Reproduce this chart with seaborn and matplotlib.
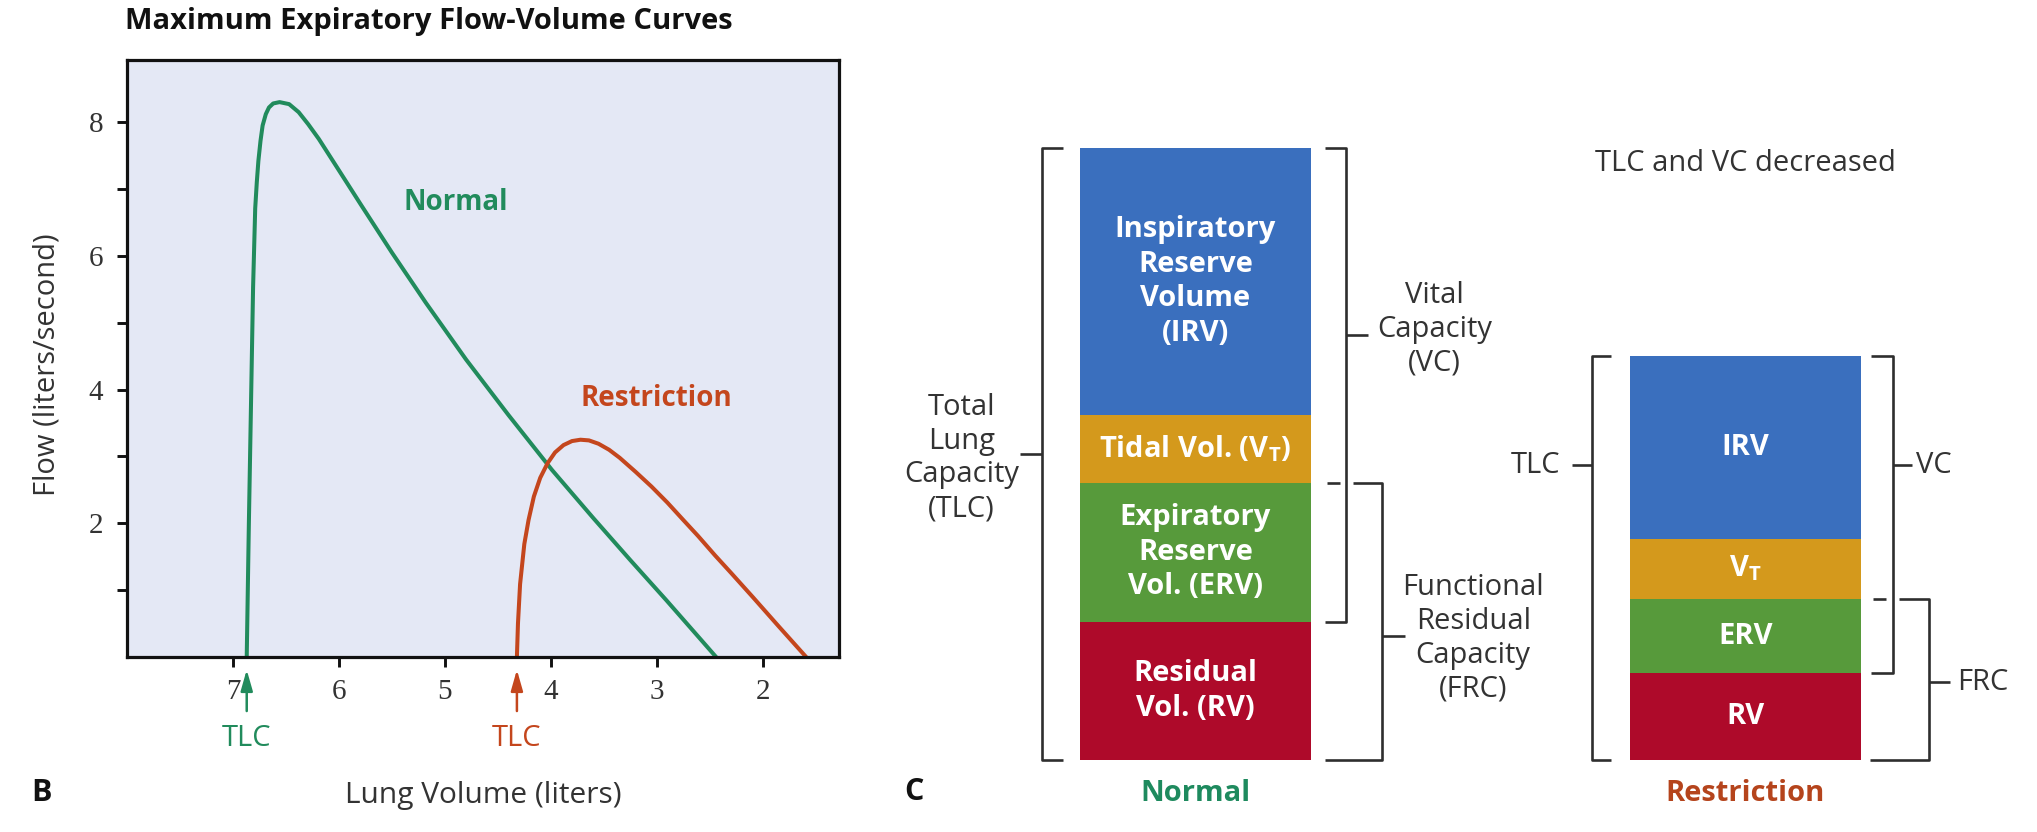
import matplotlib
matplotlib.use("Agg")
import matplotlib.pyplot as plt
import seaborn as sns

# --- data ---
# maximum expiratory flow-volume curves (volume in liters, flow in liters/second)
normal_vol = [6.87, 6.85, 6.83, 6.81, 6.79, 6.775, 6.76, 6.74, 6.72, 6.69, 6.66, 6.62,
              6.56, 6.47, 6.38, 6.29, 6.19, 6.00, 5.79, 5.50, 5.18, 4.80, 4.40, 3.99,
              3.60, 3.25, 2.91, 2.65, 2.44]
normal_flow = [0.0, 1.98, 3.75, 5.53, 6.71, 7.10, 7.42, 7.72, 7.95, 8.12, 8.22, 8.28,
               8.30, 8.27, 8.15, 7.97, 7.75, 7.28, 6.76, 6.05, 5.30, 4.45, 3.62, 2.80,
               2.08, 1.45, 0.85, 0.38, 0.0]
restr_vol = [4.32, 4.31, 4.29, 4.25, 4.21, 4.16, 4.10, 4.03, 3.96, 3.88, 3.80, 3.72,
             3.64, 3.55, 3.45, 3.35, 3.20, 3.05, 2.90, 2.75, 2.61, 2.45, 2.30, 2.09,
             1.85, 1.59]
restr_flow = [0.0, 0.50, 1.09, 1.69, 2.05, 2.40, 2.68, 2.90, 3.06, 3.17, 3.23, 3.25,
              3.24, 3.19, 3.10, 2.98, 2.77, 2.55, 2.31, 2.05, 1.81, 1.52, 1.26, 0.89,
              0.46, 0.0]
normal_tlc = 6.87
restr_tlc = 4.32

# lung volume compartments, bottom to top (liters)
compartments = ["RV", "ERV", "VT", "IRV"]
normal_parts = [1.35, 1.37, 0.66, 2.62]
restr_parts = [0.85, 0.73, 0.59, 1.79]
normal_labels = ["Residual\nVol. (RV)", "Expiratory\nReserve\nVol. (ERV)",
                 r"Tidal Vol. ($\mathbf{V}_\mathbf{T}$)",
                 "Inspiratory\nReserve\nVolume\n(IRV)"]
restr_labels = ["RV", "ERV", r"$\mathbf{V}_\mathbf{T}$", "IRV"]
part_colors = ["#AE0A2A", "#579A3B", "#D4991C", "#3A6FBE"]

green = "#218B5C"
red = "#C4461D"
ink = "#333333"

sns.set_theme(style="white")
plt.rcParams["font.family"] = ["Open Sans", "DejaVu Sans"]
plt.rcParams["mathtext.fontset"] = "custom"
plt.rcParams["mathtext.rm"] = "Open Sans"
plt.rcParams["mathtext.bf"] = "Open Sans:bold"

W, H = 2037, 832
fig = plt.figure(figsize=(W / 100, H / 100), dpi=100)
fx = lambda px: px / W
fy = lambda py: 1 - py / H

# ---------------- panel B ----------------
ax = fig.add_axes([fx(127), fy(657), 712 / W, 597 / H])
ax.set_facecolor("#E4E8F5")
sns.lineplot(x=normal_vol, y=normal_flow, sort=False, estimator=None, ax=ax,
             color=green, lw=2.9)
sns.lineplot(x=restr_vol, y=restr_flow, sort=False, estimator=None, ax=ax,
             color=red, lw=2.9)
ax.set_xlim(8, 1.28)
ax.set_ylim(0, 8.93)
for s in ax.spines.values():
    s.set_linewidth(2.3)
    s.set_color("#111111")
ax.set_xticks([7, 6, 5, 4, 3, 2])
ax.set_xticklabels(["7", "6", "5", "4", "3", "2"])
ax.set_yticks([2, 4, 6, 8])
ax.set_yticklabels(["2", "4", "6", "8"])
ax.set_yticks([1, 3, 5, 7], minor=True)
ax.tick_params(which="both", direction="out", length=7, width=2.1, color="#111111",
               bottom=True, left=True, labelsize=21, labelcolor=ink)
ax.tick_params(axis="x", pad=9)
ax.tick_params(axis="y", pad=10)
for lab in ax.get_xticklabels() + ax.get_yticklabels():
    lab.set_fontfamily("Liberation Serif")

ax.set_xlabel("Lung Volume (liters)", fontsize=21.5, color=ink, va="center")
ax.xaxis.set_label_coords(0.5, (657 - 795) / 597)
ax.set_ylabel("Flow (liters/second)", fontsize=21, color=ink, va="center")
ax.yaxis.set_label_coords((47 - 127) / 712, (657 - 365) / 597)

ax.text(4.90, 6.80, "Normal", color=green, fontsize=20, fontweight="bold",
        ha="center", va="center")
ax.text(3.00, 3.87, "Restriction", color=red, fontsize=20, fontweight="bold",
        ha="center", va="center")

for v, c in [(normal_tlc, green), (restr_tlc, red)]:
    ax.annotate("", xy=(v, -0.15), xytext=(v, -0.85), annotation_clip=False,
                arrowprops=dict(arrowstyle="-|>,head_width=0.2,head_length=0.7",
                                color=c, lw=1.8, mutation_scale=18))
    ax.text(v, -1.22, "TLC", color=c, fontsize=21, ha="center", va="center",
            clip_on=False)

fig.text(fx(125), fy(22), "Maximum Expiratory Flow-Volume Curves", fontsize=21,
         fontweight="bold", color="#111111", ha="left", va="center")
fig.text(fx(42), fy(793), "B", fontsize=22, fontweight="bold", color="#111111",
         ha="center", va="center")

# ---------------- panel C ----------------
ax2 = fig.add_axes([fx(880), fy(760), (W - 880) / W, 612 / H])
ax2.set_xlim(-0.5736, 1.530)
ax2.set_ylim(0, sum(normal_parts))
ax2.axis("off")

bar_w = 0.42
for xc, parts, labels in [(0, normal_parts, normal_labels), (1, restr_parts, restr_labels)]:
    bottom = 0.0
    for val, col, lab in zip(parts, part_colors, labels):
        ax2.bar(xc, val, bottom=bottom, width=bar_w, color=col, linewidth=0)
        ax2.text(xc, bottom + val / 2, lab, color="white", fontsize=21,
                 fontweight="bold", ha="center", va="center", linespacing=1.25)
        bottom += val


def bracket(xs, ys):
    ax2.plot(xs, ys, color="#2E2E2E", lw=1.9, solid_joinstyle="round",
             solid_capstyle="butt", clip_on=False)


def brackets(xc, parts, tlc_arm, vc_x, vc_arm, frc_x, frc_arm, ticks, tick_len):
    rv, erv, vt, irv = parts
    tlc = rv + erv + vt + irv
    frc = rv + erv
    # total lung capacity, left side
    bracket([xc - tlc_arm, xc - 0.279, xc - 0.279, xc - tlc_arm], [tlc, tlc, 0, 0])
    bracket([xc - 0.279, xc - 0.279 - tick_len[0]], [ticks[0], ticks[0]])
    # vital capacity
    bracket([xc + vc_arm, xc + vc_x, xc + vc_x, xc + vc_arm], [tlc, tlc, rv, rv])
    bracket([xc + vc_x, xc + vc_x + tick_len[1]], [ticks[1], ticks[1]])
    # functional residual capacity
    bracket([xc + vc_arm + 0.003, xc + vc_x - 0.012], [frc, frc])
    bracket([xc + vc_x + 0.012, xc + frc_x, xc + frc_x, xc + frc_arm], [frc, frc, 0, 0])
    bracket([xc + frc_x, xc + frc_x + tick_len[2]], [ticks[2], ticks[2]])


brackets(0, normal_parts, 0.241, 0.274, 0.236, 0.339, 0.236,
         [sum(normal_parts) / 2, 4.17, 1.22], [0.040, 0.040, 0.042])
brackets(1, restr_parts, 0.245, 0.268, 0.228, 0.334, 0.226,
         [2.89, 2.89, 0.76], [0.036, 0.035, 0.038])

txt = dict(fontsize=21, color=ink, linespacing=1.22)
ax2.text(-0.425, 2.96, "Total\nLung\nCapacity\n(TLC)", ha="center", va="center", **txt)
ax2.text(0.435, 4.22, "Vital\nCapacity\n(VC)", ha="center", va="center", **txt)
ax2.text(0.505, 1.19, "Functional\nResidual\nCapacity\n(FRC)", ha="center", va="center", **txt)
ax2.text(1 - 0.337, 2.89, "TLC", ha="right", va="center", **txt)
ax2.text(1.31, 2.89, "VC", ha="left", va="center", **txt)
ax2.text(1.384, 0.76, "FRC", ha="left", va="center", **txt)
ax2.text(1.0, 5.85, "TLC and VC decreased", ha="center", va="center", **txt)

ax2.text(0, -0.324, "Normal", color="#1E8A5E", fontsize=21, fontweight="bold",
         ha="center", va="center", clip_on=False)
ax2.text(1, -0.324, "Restriction", color="#B5441C", fontsize=21, fontweight="bold",
         ha="center", va="center", clip_on=False)
ax2.text(-0.512, -0.314, "C", color="#111111", fontsize=22, fontweight="bold",
         ha="center", va="center", clip_on=False)

fig.savefig("out.png", dpi=100, facecolor="white")
